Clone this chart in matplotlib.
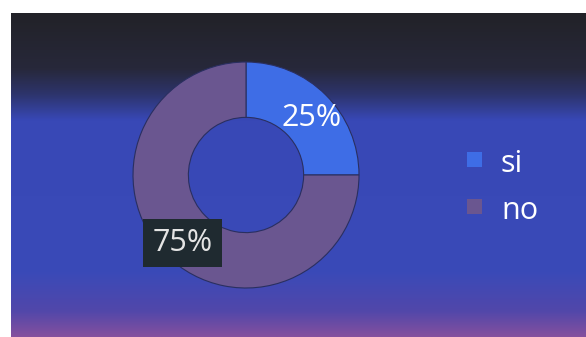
import numpy as np
import matplotlib
matplotlib.use("Agg")
import matplotlib.pyplot as plt
from matplotlib.colors import LinearSegmentedColormap

labels = ["si", "no"]
values = [25, 75]
pct_labels = ["25%", "75%"]
colors = ["#3e6de6", "#6a5690"]

W, H = 586, 337
fig = plt.figure(figsize=(W / 100, H / 100), dpi=100)
fig.patch.set_facecolor("white")

# background gradient panel
bg = fig.add_axes([11 / W, 0, 1 - 11 / W, 1 - 13 / H])
bg.set_axis_off()
cmap = LinearSegmentedColormap.from_list(
    "bg",
    [(0.0, "#222228"), (0.17, "#27283a"), (0.25, "#2d346c"), (0.33, "#3848b6"),
     (0.80, "#3a4ab8"), (0.92, "#5147aa"), (1.0, "#84509e")])
grad = np.linspace(0, 1, 256).reshape(-1, 1)
bg.imshow(grad, aspect="auto", cmap=cmap, extent=[0, 1, 1, 0])
bg.set_xlim(0, 1)
bg.set_ylim(1, 0)

# donut
cx, cy, r = 246, 175, 113
ax = fig.add_axes([(cx - r) / W, (H - cy - r) / H, 2 * r / W, 2 * r / H])
ax.set_axis_off()
wedges, _ = ax.pie(values, colors=colors, startangle=90, counterclock=False,
                   radius=1.0, wedgeprops=dict(width=0.49, edgecolor="#2a2f60", linewidth=0.8))
ax.set_xlim(-1, 1)
ax.set_ylim(-1, 1)
ax.set_aspect("equal")

ax.text(0.58, 0.50, pct_labels[0], color="white", fontsize=22, ha="center", va="center",
        family="Open Sans")
ax.text(-0.56, -0.60, pct_labels[1], color="#e4e4e4", fontsize=22, ha="center", va="center",
        family="Open Sans",
        bbox=dict(boxstyle="square,pad=0.3", facecolor="#1f2a30", edgecolor="none"))

# legend
for i, (lab, col) in enumerate(zip(labels, colors)):
    y = 1 - (160 + i * 47) / H
    fig.patches.append(plt.Rectangle((467 / W, y - 7 / H), 15 / W, 15 / H,
                                     transform=fig.transFigure, facecolor=col,
                                     edgecolor="none"))
    fig.text(501 / W, y - 4 / H, lab, color="white", fontsize=22, va="center", ha="left",
             family="Open Sans")

fig.savefig("out.png", dpi=100)
